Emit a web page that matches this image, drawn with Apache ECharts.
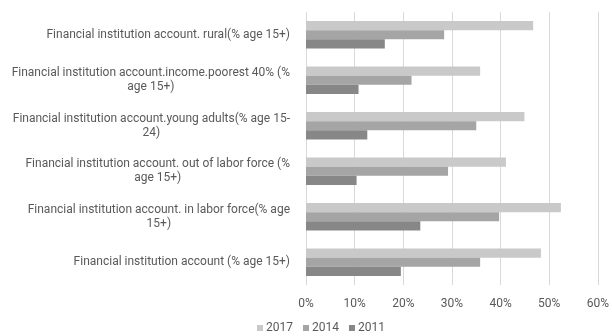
<!DOCTYPE html>
<html>
<head>
<meta charset="utf-8">
<script src="https://cdn.jsdelivr.net/npm/echarts@6/dist/echarts.min.js"></script>
<style>
  html, body { margin: 0; padding: 0; background: #fff; }
  #chart { width: 612px; height: 336px; }
</style>
</head>
<body>
<div id="chart"></div>
<script>
// categories, top to bottom
const categories = [
  'Financial institution account. rural(% age 15+)',
  'Financial institution account.income.poorest 40% (%\nage 15+)',
  'Financial institution account.young adults(% age 15-\n24)',
  'Financial institution account. out of labor force (%\nage 15+)',
  'Financial institution account. in labor force(% age\n15+)',
  'Financial institution account (% age 15+)'
]
const years = ['2017', '2014', '2011']
const v2017 = [46.7, 35.8, 44.9, 41.1, 52.4, 48.3]
const v2014 = [28.4, 21.7, 35.0, 29.2, 39.7, 35.8]
const v2011 = [16.2, 10.8, 12.6, 10.4, 23.5, 19.5]
const colors = ['#c9c9c9', '#a5a5a5', '#878787']

const textColor = '#595959'
const font = 'Roboto'

function chartsInit(element, option){
    if(element&&option){
        const charts=echarts.init(element)
        charts.setOption(option)
        return charts
    }
    return null
}

const values = [v2017, v2014, v2011]
const option = {
    animation: false,
    grid: { left: 306, right: 11, top: 12, bottom: 51 },
    legend: {
        bottom: -3,
        left: 252,
        data: years,
        icon: 'rect',
        itemWidth: 6,
        itemHeight: 6,
        itemGap: 10,
        textStyle: { color: textColor, fontFamily: font, fontSize: 12, padding: [0, 0, 0, -2] }
    },
    xAxis: {
        type: 'value',
        min: 0,
        max: 60,
        interval: 10,
        axisLine: { show: false },
        axisTick: { show: false },
        axisLabel: { formatter: '{value}%', color: textColor, fontFamily: font, fontSize: 12, margin: 13 },
        splitLine: { lineStyle: { color: '#d9d9d9', width: 1 } }
    },
    yAxis: {
        type: 'category',
        inverse: true,
        data: categories,
        axisLine: { show: false },
        axisTick: { show: false },
        axisLabel: {
            color: textColor, fontFamily: font, fontSize: 12, margin: 16,
            align: 'right', lineHeight: 14,
            // lines centred inside the right-aligned block
            formatter: v => v.split('\n').map(s => '{c|' + s + '}').join('\n'),
            rich: { c: { align: 'center', color: textColor, fontFamily: font, fontSize: 12, lineHeight: 14 } }
        }
    },
    series: years.map((y, i) => ({
        name: y,
        type: 'bar',
        data: values[i],
        barGap: '0%',
        barCategoryGap: '40%',
        itemStyle: { color: colors[i] }
    }))
}

chartsInit(document.getElementById('chart'), option)
</script>
</body>
</html>
